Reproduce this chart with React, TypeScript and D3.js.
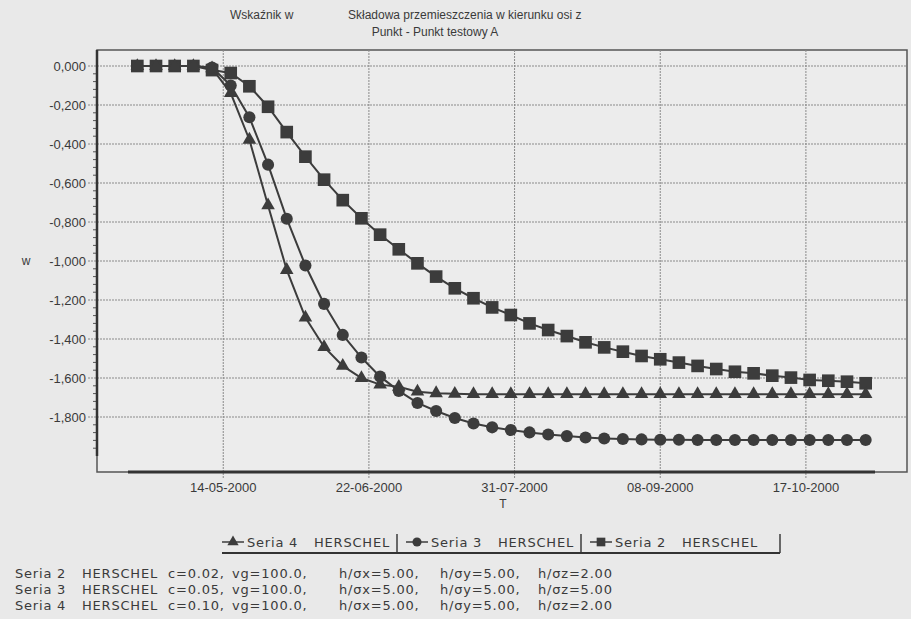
import { useEffect, useRef } from 'react';
import * as d3 from 'd3';

// sampling dates (every 5 days)
const dates = [
  '2000-04-21', '2000-04-26', '2000-05-01', '2000-05-06', '2000-05-11', '2000-05-16', '2000-05-21', '2000-05-26',
  '2000-05-31', '2000-06-05', '2000-06-10', '2000-06-15', '2000-06-20', '2000-06-25', '2000-06-30', '2000-07-05',
  '2000-07-10', '2000-07-15', '2000-07-20', '2000-07-25', '2000-07-30', '2000-08-04', '2000-08-09', '2000-08-14',
  '2000-08-19', '2000-08-24', '2000-08-29', '2000-09-03', '2000-09-08', '2000-09-13', '2000-09-18', '2000-09-23',
  '2000-09-28', '2000-10-03', '2000-10-08', '2000-10-13', '2000-10-18', '2000-10-23', '2000-10-28', '2000-11-02',
];

// Seria 2 HERSCHEL (squares)
const seria2 = [
  0, 0, 0, 0, -0.021, -0.036, -0.104, -0.209, -0.339, -0.465, -0.583, -0.688, -0.781, -0.865, -0.94, -1.012,
  -1.08, -1.14, -1.191, -1.238, -1.277, -1.32, -1.354, -1.385, -1.417, -1.443, -1.465, -1.487, -1.504, -1.521,
  -1.538, -1.554, -1.568, -1.576, -1.588, -1.598, -1.61, -1.614, -1.619, -1.627,
];
// Seria 3 HERSCHEL (circles)
const seria3 = [
  0, 0, 0, 0, -0.008, -0.1, -0.263, -0.506, -0.783, -1.023, -1.22, -1.379, -1.495, -1.593, -1.666, -1.728,
  -1.769, -1.805, -1.833, -1.853, -1.867, -1.879, -1.89, -1.898, -1.905, -1.91, -1.913, -1.915, -1.917, -1.917,
  -1.918, -1.918, -1.918, -1.918, -1.918, -1.918, -1.918, -1.918, -1.918, -1.918,
];
// Seria 4 HERSCHEL (triangles)
const seria4 = [
  0, 0, 0, 0, -0.012, -0.139, -0.378, -0.715, -1.046, -1.29, -1.441, -1.538, -1.6, -1.634, -1.645, -1.67,
  -1.678, -1.681, -1.683, -1.683, -1.683, -1.683, -1.683, -1.683, -1.683, -1.683, -1.683, -1.683, -1.683, -1.683,
  -1.683, -1.683, -1.683, -1.683, -1.683, -1.683, -1.683, -1.683, -1.683, -1.683,
];

const xTickDates = ['2000-05-14', '2000-06-22', '2000-07-31', '2000-09-08', '2000-10-17'];
const yTicks = [0, -0.2, -0.4, -0.6, -0.8, -1.0, -1.2, -1.4, -1.6, -1.8];

const legendNames = ['Seria 4', 'Seria 3', 'Seria 2'];
const footnotes = [
  ['Seria 2', 'HERSCHEL', 'c=0.02,', 'vg=100.0,', 'h/σx=5.00,', 'h/σy=5.00,', 'h/σz=2.00'],
  ['Seria 3', 'HERSCHEL', 'c=0.05,', 'vg=100.0,', 'h/σx=5.00,', 'h/σy=5.00,', 'h/σz=5.00'],
  ['Seria 4', 'HERSCHEL', 'c=0.10,', 'vg=100.0,', 'h/σx=5.00,', 'h/σy=5.00,', 'h/σz=2.00'],
];

const W = 911, H = 619;
const INK = '#3c3c3c';
const TXT = '#3a3a3a';

export default function App() {
  const svgRef = useRef<SVGSVGElement>(null);

  useEffect(() => {
    const svg = d3.select(svgRef.current);
    svg.selectAll('*').remove();

    const frame = { left: 97, right: 907, top: 50, bottom: 472 };
    const parse = d3.utcParse('%Y-%m-%d');
    const xs = dates.map(d => parse(d) as Date);
    const day = 86400000;

    const x = d3.scaleUtc()
      .domain([new Date(+xs[0] - 2.5 * day), new Date(+xs[xs.length - 1] + 2.5 * day)])
      .range([128, 875]);
    const y = d3.scaleLinear().domain([0, -1.8]).range([66, 417]);

    svg.append('rect').attr('width', W).attr('height', H).attr('fill', '#e9e9e9');

    // titles
    const title = svg.append('g').attr('font-family', 'Liberation Sans, Arial, sans-serif').attr('font-size', 12).attr('fill', TXT);
    title.append('text').attr('x', 230).attr('y', 19).text('Wskaźnik w');
    title.append('text').attr('x', 348).attr('y', 19).text('Składowa przemieszczenia w kierunku osi z');
    title.append('text').attr('x', 435).attr('y', 36).attr('text-anchor', 'middle').text('Punkt - Punkt testowy A');

    // frame
    svg.append('rect')
      .attr('x', frame.left).attr('y', frame.top)
      .attr('width', frame.right - frame.left).attr('height', frame.bottom - frame.top)
      .attr('fill', '#ececec').attr('stroke', '#555').attr('stroke-width', 1.5);

    // grid
    const grid = svg.append('g').attr('stroke', '#8a8a8a').attr('stroke-width', 1).attr('stroke-dasharray', '2,1');
    grid.selectAll('line.h').data(yTicks).join('line')
      .attr('x1', 88).attr('x2', frame.right)
      .attr('y1', d => y(d)).attr('y2', d => y(d));
    grid.selectAll('line.v').data(xTickDates).join('line')
      .attr('x1', d => x(parse(d) as Date)).attr('x2', d => x(parse(d) as Date))
      .attr('y1', frame.top).attr('y2', frame.bottom + 6);

    // y axis with minor ticks
    const minor = d3.range(0, 51).map(i => -i * 0.04).filter(v => Math.abs(v / 0.2 - Math.round(v / 0.2)) > 0.01);
    svg.append('g').attr('stroke', '#555').selectAll('line').data(minor).join('line')
      .attr('x1', 93).attr('x2', frame.left).attr('y1', d => y(d)).attr('y2', d => y(d));
    svg.append('line').attr('x1', frame.left).attr('x2', frame.left).attr('y1', frame.top).attr('y2', y(-2.0))
      .attr('stroke', '#333').attr('stroke-width', 2.5);
    svg.append('line').attr('x1', x.range()[0]).attr('x2', x.range()[1]).attr('y1', frame.bottom).attr('y2', frame.bottom)
      .attr('stroke', '#333').attr('stroke-width', 3);

    const fmt = (v: number) => (Math.abs(v) < 1e-9 ? 0 : v).toFixed(3).replace('.', ',');
    const lab = svg.append('g').attr('font-family', 'Liberation Sans, Arial, sans-serif').attr('font-size', 13).attr('fill', TXT);
    lab.selectAll('text.y').data(yTicks).join('text')
      .attr('x', 86).attr('y', d => y(d) + 4.5).attr('text-anchor', 'end').text(d => fmt(d));
    lab.selectAll('text.x').data(xTickDates).join('text')
      .attr('x', d => x(parse(d) as Date)).attr('y', 492).attr('text-anchor', 'middle')
      .text(d => d3.utcFormat('%d-%m-%Y')(parse(d) as Date));
    lab.append('text').attr('x', 503).attr('y', 508).attr('text-anchor', 'middle').attr('font-size', 12).text('T');
    lab.append('text').attr('x', 26).attr('y', 265).attr('text-anchor', 'middle').attr('font-size', 12).text('w');

    // series
    const series = [
      { values: seria2, symbol: d3.symbolSquare, size: 160 },
      { values: seria3, symbol: d3.symbolCircle, size: 115 },
      { values: seria4, symbol: d3.symbolTriangle, size: 80 },
    ];
    const line = d3.line<number>().x((_, i) => x(xs[i])).y(v => y(v));
    series.forEach(s => {
      const g = svg.append('g');
      g.append('path').datum(s.values).attr('d', line).attr('fill', 'none').attr('stroke', INK).attr('stroke-width', 2);
      g.selectAll('path.m').data(s.values).join('path')
        .attr('transform', (v, i) => `translate(${x(xs[i])},${y(v)})`)
        .attr('d', d3.symbol(s.symbol, s.size)())
        .attr('fill', INK);
    });

    // legend
    const font = 'DejaVu Sans, Verdana, sans-serif';
    const leg = svg.append('g').attr('font-family', font).attr('font-size', 13).attr('fill', TXT).attr('letter-spacing', 0.8);
    const legSymbols = [
      { symbol: d3.symbolTriangle, size: 55 },
      { symbol: d3.symbolCircle, size: 65 },
      { symbol: d3.symbolSquare, size: 75 },
    ];
    const ly = 547;
    const lx0 = 222, pitch = 184;
    legendNames.forEach((name, i) => {
      const x0 = lx0 + i * pitch;
      const sym = legSymbols[i];
      leg.append('line').attr('x1', x0).attr('x2', x0 + 22).attr('y1', ly - 5).attr('y2', ly - 5).attr('stroke', INK).attr('stroke-width', 1.5);
      leg.append('path').attr('transform', `translate(${x0 + 11},${ly - 5})`).attr('d', d3.symbol(sym.symbol, sym.size)()).attr('fill', INK);
      leg.append('text').attr('x', x0 + 25).attr('y', ly).text(name);
      leg.append('text').attr('x', x0 + 92).attr('y', ly).text('HERSCHEL');
    });
    [lx0 + pitch - 9, lx0 + 2 * pitch - 9, 780].forEach(bx => {
      leg.append('line').attr('x1', bx).attr('x2', bx).attr('y1', ly - 13).attr('y2', ly + 6).attr('stroke', INK).attr('stroke-width', 1.5);
    });
    leg.append('line').attr('x1', lx0).attr('x2', 780).attr('y1', ly + 6).attr('y2', ly + 6).attr('stroke', '#333').attr('stroke-width', 2);

    // footnotes
    const colX = [15, 82, 168, 232, 339, 440, 538];
    const foot = svg.append('g').attr('font-family', font).attr('font-size', 13).attr('fill', TXT).attr('letter-spacing', 0.8);
    footnotes.forEach((row, r) => {
      row.forEach((w, c) => {
        foot.append('text').attr('x', colX[c]).attr('y', 578 + r * 16).text(w);
      });
    });
  }, []);

  return (
    <svg ref={svgRef} width={W} height={H} style={{ position: 'absolute', left: 0, top: 0 }} />
  );
}
